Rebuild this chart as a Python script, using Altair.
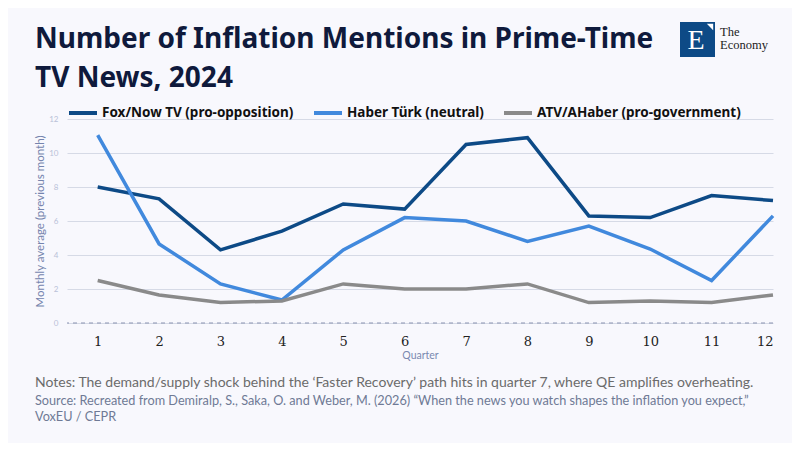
import altair as alt
import pandas as pd

quarters = [1, 2, 3, 4, 5, 6, 7, 8, 9, 10, 11, 12]
fox = [8.0, 7.3, 4.3, 5.4, 7.0, 6.7, 10.5, 10.9, 6.3, 6.2, 7.5, 7.2]
haber = [11.05, 4.65, 2.3, 1.35, 4.3, 6.2, 6.0, 4.8, 5.7, 4.35, 2.5, 6.3]
atv = [2.5, 1.65, 1.2, 1.3, 2.3, 2.0, 2.0, 2.3, 1.2, 1.3, 1.2, 1.65]
series_names = ["Fox/Now TV (pro-opposition)", "Haber Türk (neutral)", "ATV/AHaber (pro-government)"]
series_colors = ["#0d4a86", "#4189dd", "#8a8a8a"]
y_ticks = [0, 2, 4, 6, 8, 10, 12]

title_lines = ["Number of Inflation Mentions in Prime-Time", "TV News, 2024"]
note_text = "Notes: The demand/supply shock behind the \u2018Faster Recovery\u2019 path hits in quarter 7, where QE amplifies overheating."
source_lines = [
    "Source: Recreated from Demiralp, S., Saka, O. and Weber, M. (2026) \u201cWhen the news you watch shapes the inflation you expect,\u201d",
    "VoxEU / CEPR",
]

rows = []
for name, vals in zip(series_names, [fox, haber, atv]):
    for q, v in zip(quarters, vals):
        rows.append({"Quarter": q, "Value": v, "Series": name})
df = pd.DataFrame(rows)

W, H = 706, 204
BG = "#f8f8fd"
yscale = alt.Scale(domain=[0, 12], nice=False)
yaxis = alt.Axis(values=y_ticks, title="Monthly average (previous month)", tickCount=7,
                 domain=False, ticks=False, labelPadding=9, labelFont="Lato",
                 labelFontSize=8, labelColor="#b9c1d8", labelOverlap=False,
                 gridColor="#d6dae6", gridWidth=1, titleFont="Lato", titleFontSize=11.5,
                 titleFontWeight="normal", titleColor="#7584ad", titlePadding=3)

lines = alt.Chart(df).mark_line(strokeWidth=3.5, strokeJoin="miter").encode(
    x=alt.X("Quarter:Q", scale=alt.Scale(domain=[0.5, 12], nice=False, zero=False),
            axis=alt.Axis(values=quarters, format="d", title="Quarter", grid=False,
                          domain=False, ticks=False, labelPadding=12,
                          labelFont="DejaVu Serif", labelFontSize=13, labelColor="#222222",
                          titleFont="Lato", titleFontSize=10.5, titleFontWeight="normal",
                          titleColor="#7a88b0", titlePadding=2)),
    y=alt.Y("Value:Q", scale=yscale, axis=yaxis),
    color=alt.Color("Series:N", scale=alt.Scale(domain=series_names, range=series_colors),
                    legend=alt.Legend(title=None, orient="none", legendX=0, legendY=-22,
                                      direction="horizontal", symbolType="stroke",
                                      symbolStrokeWidth=4, symbolSize=784,
                                      labelFont="Noto Sans", labelFontSize=13.5, labelFontWeight="bold",
                                      labelColor="#111111", labelOffset=3, columnPadding=12,
                                      labelLimit=400)),
)

zero = alt.Chart(pd.DataFrame({"Value": [0]})).mark_rule(
    strokeDash=[4, 4], color="#8a93b0", strokeWidth=1
).encode(y=alt.Y("Value:Q", scale=yscale, axis=yaxis))

title1 = alt.Chart(pd.DataFrame({"t": [title_lines[0]]})).mark_text(
    align="left", baseline="alphabetic", font="Noto Sans", fontSize=28, fontWeight="bold", color="#0f1a3c"
).encode(text="t:N", x=alt.value(-32), y=alt.value(-71))
title2 = alt.Chart(pd.DataFrame({"t": [title_lines[1]]})).mark_text(
    align="left", baseline="alphabetic", font="Noto Sans", fontSize=28, fontWeight="bold", color="#0f1a3c"
).encode(text="t:N", x=alt.value(-32), y=alt.value(-32))

note = alt.Chart(pd.DataFrame({"t": [note_text]})).mark_text(
    align="left", baseline="alphabetic", font="Lato", fontSize=14, color="#6b6b6b"
).encode(text="t:N", x=alt.value(-32), y=alt.value(268))
src1 = alt.Chart(pd.DataFrame({"t": [source_lines[0]]})).mark_text(
    align="left", baseline="alphabetic", font="Lato", fontSize=12.7, color="#6f7a95"
).encode(text="t:N", x=alt.value(-32), y=alt.value(286))
src2 = alt.Chart(pd.DataFrame({"t": [source_lines[1]]})).mark_text(
    align="left", baseline="alphabetic", font="Lato", fontSize=12.7, color="#6f7a95"
).encode(text="t:N", x=alt.value(-32), y=alt.value(302))

logo_box = alt.Chart(pd.DataFrame({"a": [1]})).mark_rect(color="#0d4a86").encode(
    x=alt.value(613), x2=alt.value(648), y=alt.value(-97), y2=alt.value(-62))
logo_e = alt.Chart(pd.DataFrame({"t": ["E"]})).mark_text(
    align="center", baseline="middle", font="Liberation Serif", fontSize=28, color="white"
).encode(text="t:N", x=alt.value(629), y=alt.value(-78))
logo_tri = alt.Chart(pd.DataFrame({"a": [1]})).mark_point(
    shape="M -1 -1 L 1 -1 L 1 1 Z", filled=True, color="white", size=40, opacity=1
).encode(x=alt.value(643), y=alt.value(-92))
logo_the = alt.Chart(pd.DataFrame({"t": ["The"]})).mark_text(
    align="left", baseline="alphabetic", font="Liberation Serif", fontSize=12.5, color="#222222"
).encode(text="t:N", x=alt.value(653), y=alt.value(-83))
logo_eco = alt.Chart(pd.DataFrame({"t": ["Economy"]})).mark_text(
    align="left", baseline="alphabetic", font="Liberation Serif", fontSize=12.5, color="#222222"
).encode(text="t:N", x=alt.value(653), y=alt.value(-70))

chart = alt.layer(
    lines, zero, title1, title2, note, src1, src2, logo_box, logo_e, logo_tri, logo_the, logo_eco
).properties(
    width=W, height=H, background=BG,
    padding={"left": 59, "top": 111, "right": 19, "bottom": 120},
    autosize=alt.AutoSizeParams(type="none"),
).configure_view(stroke=None).resolve_scale(color="independent")

chart.save("out.html", embed_options={"renderer": "svg", "actions": False})
